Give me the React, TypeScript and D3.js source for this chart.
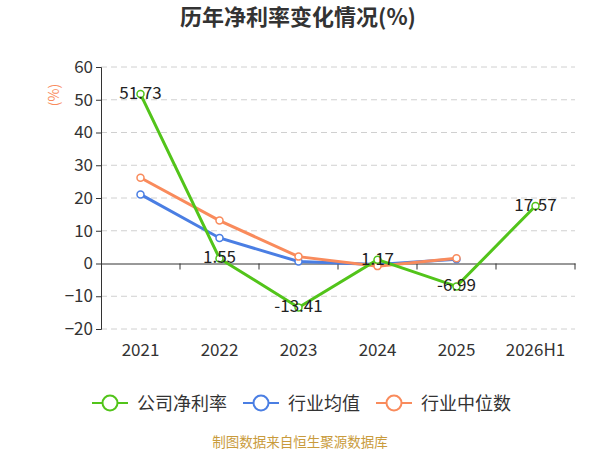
import { useRef, useEffect } from 'react'
import * as d3 from 'd3'

const categories = ['2021', '2022', '2023', '2024', '2025', '2026H1']
const companyRate = [51.73, 1.55, -13.41, 1.17, -6.99, 17.57]
const industryAvg = [21.1, 7.8, 0.6, -0.3, 1.3]
const industryMedian = [26.2, 13.1, 2.1, -0.8, 1.6]
const yTicks = [-20, -10, 0, 10, 20, 30, 40, 50, 60]

const seriesNames = ['公司净利率', '行业均值', '行业中位数']
const seriesColors = ['#52c41a', '#4a7ee3', '#f98b5c']

const W = 600
const H = 450
const FONT = '"Noto Sans CJK SC", "Noto Sans", sans-serif'

export default function App() {
  const svgRef = useRef<SVGSVGElement>(null)

  useEffect(() => {
    const svg = d3.select(svgRef.current)
    svg.selectAll('*').remove()

    const left = 101
    const right = 575
    const top = 67
    const bottom = 329

    const x = d3.scaleBand<string>().domain(categories).range([left, right])
    const y = d3.scaleLinear().domain([-20, 60]).range([bottom, top])
    const cx = (c: string) => (x(c) as number) + x.bandwidth() / 2

    // title
    svg.append('text')
      .attr('x', 298).attr('y', 25)
      .attr('text-anchor', 'middle')
      .attr('font-family', FONT).attr('font-size', 22).attr('font-weight', 'bold')
      .attr('fill', '#333')
      .text('历年净利率变化情况(%)')

    // unit label
    svg.append('text')
      .attr('transform', `translate(59, 95) rotate(-90)`)
      .attr('text-anchor', 'middle')
      .attr('font-family', FONT).attr('font-size', 14)
      .attr('fill', '#f98b5c')
      .text('(%)')

    // grid
    svg.append('g').selectAll('line')
      .data(yTicks.filter(t => t !== 0))
      .join('line')
      .attr('x1', left).attr('x2', right)
      .attr('y1', d => y(d)).attr('y2', d => y(d))
      .attr('stroke', '#d0d0d0').attr('stroke-dasharray', '6,4')

    // y axis
    const yAxis = svg.append('g')
      .attr('transform', `translate(${left},0)`)
      .call(d3.axisLeft(y).tickValues(yTicks).tickSize(5).tickPadding(3))
    yAxis.select('.domain').attr('stroke', '#333')
    yAxis.selectAll('line').attr('stroke', '#333')
    yAxis.selectAll('text').attr('font-family', FONT).attr('font-size', 17).attr('fill', '#333')

    // x axis at zero
    const xAxis = svg.append('g')
      .attr('transform', `translate(0,${y(0)})`)
      .call(d3.axisBottom(x).tickSize(0).tickFormat(() => ''))
    xAxis.select('.domain').attr('stroke', '#333')
    svg.append('g').selectAll('line')
      .data(categories)
      .join('line')
      .attr('x1', d => (x(d) as number) + x.step())
      .attr('x2', d => (x(d) as number) + x.step())
      .attr('y1', y(0)).attr('y2', y(0) + 6)
      .attr('stroke', '#333')

    svg.append('g').selectAll('text')
      .data(categories)
      .join('text')
      .attr('x', d => cx(d)).attr('y', bottom + 27)
      .attr('text-anchor', 'middle')
      .attr('font-family', FONT).attr('font-size', 17).attr('fill', '#333')
      .text(d => d)

    const allSeries = [companyRate, industryAvg, industryMedian]
    const order = [1, 2, 0]
    order.forEach(si => {
      const values = allSeries[si]
      const pts = values.map((v, i) => ({ c: categories[i], v }))
      const line = d3.line<{ c: string; v: number }>()
        .x(d => cx(d.c))
        .y(d => y(d.v))
      svg.append('path')
        .datum(pts)
        .attr('d', line)
        .attr('fill', 'none')
        .attr('stroke', seriesColors[si])
        .attr('stroke-width', 3)
      svg.append('g').selectAll('circle')
        .data(pts)
        .join('circle')
        .attr('cx', d => cx(d.c)).attr('cy', d => y(d.v))
        .attr('r', 3.5)
        .attr('fill', '#fff')
        .attr('stroke', seriesColors[si])
        .attr('stroke-width', 1.5)
    })

    // value labels for company
    svg.append('g').selectAll('text')
      .data(companyRate.map((v, i) => ({ c: categories[i], v })))
      .join('text')
      .attr('x', d => cx(d.c))
      .attr('y', d => y(d.v) + 5)
      .attr('text-anchor', 'middle')
      .attr('font-family', FONT).attr('font-size', 17).attr('fill', '#222')
      .text(d => d.v.toFixed(2))

    // legend
    const legendX = [92, 243, 376]
    seriesNames.forEach((name, i) => {
      const g = svg.append('g').attr('transform', `translate(${legendX[i]},403)`)
      g.append('line').attr('x1', 0).attr('x2', 36).attr('y1', 0).attr('y2', 0)
        .attr('stroke', seriesColors[i]).attr('stroke-width', 2)
      g.append('circle').attr('cx', 18).attr('cy', 0).attr('r', 7.5)
        .attr('fill', '#fff').attr('stroke', seriesColors[i]).attr('stroke-width', 2)
      g.append('text').attr('x', 45).attr('y', 6.5)
        .attr('font-family', FONT).attr('font-size', 18).attr('fill', '#333')
        .text(name)
    })

    // source
    svg.append('text')
      .attr('x', 300).attr('y', 447)
      .attr('text-anchor', 'middle')
      .attr('font-family', FONT).attr('font-size', 13.5).attr('fill', '#c99b3c')
      .text('制图数据来自恒生聚源数据库')
  }, [])

  return (
    <svg
      ref={svgRef}
      width={W}
      height={H}
      style={{ position: 'absolute', left: 0, top: 0, background: '#fff' }}
    />
  )
}
